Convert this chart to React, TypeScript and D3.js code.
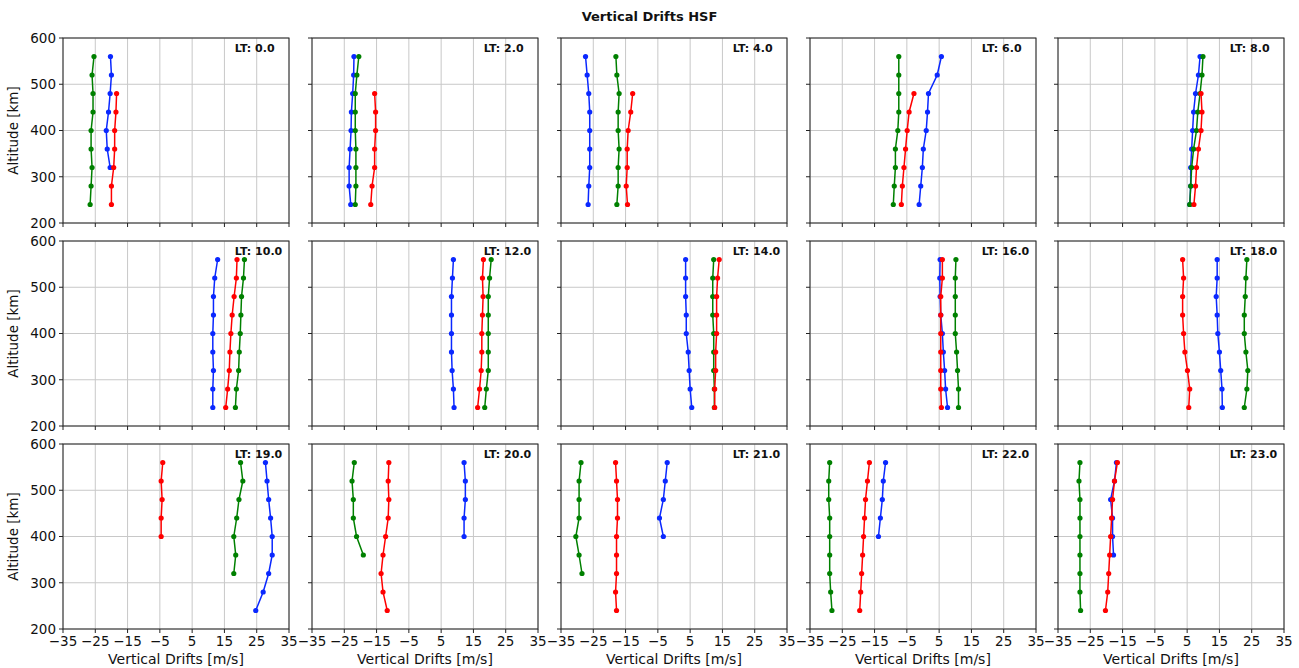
import React from "react";
import * as d3 from "d3";

const ALTITUDES = [240, 280, 320, 360, 400, 440, 480, 520, 560];
const LT_LABELS = ["0.0","2.0","4.0","6.0","8.0","10.0","12.0","14.0","16.0","18.0","19.0","20.0","21.0","22.0","23.0"];
const X_TICKS = [-35, -25, -15, -5, 5, 15, 25, 35];
const Y_TICKS = [200, 300, 400, 500, 600];

type S = (number | null)[];
const n = null;

const BLUE: S[] = [
  [n, n, -20.4, -21.3, -21.6, -20.9, -20.4, -20.0, -20.3],
  [-23.0, -23.5, -23.5, -23.2, -22.9, -22.8, -22.4, -22.1, -22.0],
  [-26.6, -26.4, -26.1, -26.1, -26.1, -26.1, -26.4, -26.9, -27.4],
  [-1.2, -0.7, -0.2, 0.1, 1.0, 1.4, 1.7, 4.4, 5.7],
  [5.8, 6.1, 6.1, 6.4, 6.7, 7.0, 7.6, 8.5, 9.0],
  [11.4, 11.4, 11.6, 11.4, 11.4, 11.6, 11.6, 12.0, 12.9],
  [9.0, 8.8, 8.4, 8.2, 8.2, 8.2, 8.2, 8.5, 8.8],
  [5.5, 5.0, 4.7, 4.4, 3.8, 3.8, 3.6, 3.6, 3.6],
  [7.6, 7.0, 6.7, 6.3, 6.0, 5.5, 5.3, 5.2, 5.3],
  [15.9, 15.8, 15.4, 15.0, 14.5, 14.3, 14.0, 14.3, 14.3],
  [24.7, 27.0, 28.7, 29.8, 29.8, 29.3, 28.7, 28.2, 27.7],
  [n, n, n, n, 12.1, 12.1, 12.5, 12.5, 12.1],
  [n, n, n, n, -3.3, -4.5, -3.3, -2.7, -2.1],
  [n, n, n, n, -13.8, -13.2, -12.6, -12.3, -11.6],
  [n, n, n, -17.8, -18.1, -18.1, -18.7, -17.5, -16.9],
];

const GREEN: S[] = [
  [-26.6, -26.3, -26.0, -26.3, -26.3, -25.7, -25.7, -26.0, -25.4],
  [-21.6, -21.4, -21.4, -21.4, -21.6, -21.6, -21.6, -21.1, -20.5],
  [-17.7, -17.3, -17.3, -17.0, -17.3, -17.3, -17.0, -17.7, -18.0],
  [-9.2, -8.9, -8.55, -8.55, -7.8, -7.5, -7.5, -7.5, -7.5],
  [5.8, 6.1, 6.4, 7.0, 7.9, 8.3, 9.0, 9.6, 9.9],
  [18.4, 18.7, 19.4, 19.6, 19.9, 20.1, 20.3, 20.9, 21.2],
  [18.5, 19.0, 19.6, 19.6, 19.6, 19.6, 19.6, 20.0, 20.5],
  [12.5, 12.5, 12.3, 12.3, 12.3, 12.0, 12.0, 12.0, 12.3],
  [11.0, 11.0, 10.7, 10.4, 10.0, 10.0, 10.0, 10.0, 10.2],
  [22.7, 23.5, 23.8, 23.2, 22.7, 22.7, 23.0, 23.2, 23.5],
  [n, n, 17.9, 18.5, 17.9, 18.8, 19.5, 20.7, 20.0],
  [n, n, n, -19.1, -21.2, -22.2, -22.2, -22.6, -21.9],
  [n, n, -28.5, -29.4, -30.4, -29.4, -29.4, -29.4, -28.8],
  [-28.2, -28.6, -28.9, -28.9, -28.9, -28.9, -29.2, -29.2, -28.9],
  [-28.0, -28.2, -28.2, -28.2, -28.2, -28.2, -28.2, -28.5, -28.2],
];

const RED: S[] = [
  [-20.0, -20.0, -19.3, -19.0, -19.0, -18.6, -18.4, n, n],
  [-16.8, -16.4, -15.6, -15.6, -15.3, -15.3, -15.6, n, n],
  [-14.4, -14.8, -14.5, -14.5, -14.2, -13.4, -12.8, n, n],
  [-6.7, -6.4, -5.9, -5.4, -4.9, -4.3, -2.8, n, n],
  [7.1, 7.6, 7.9, 8.5, 9.3, 9.6, 9.3, n, n],
  [15.4, 16.0, 16.5, 16.7, 17.0, 17.4, 18.0, 18.7, 18.9],
  [16.3, 16.9, 17.4, 17.6, 17.6, 17.8, 18.0, 17.8, 18.1],
  [12.6, 12.6, 12.9, 12.9, 13.2, 13.2, 13.2, 13.5, 14.0],
  [5.7, 5.5, 5.5, 5.5, 5.5, 5.5, 5.5, 6.0, 6.0],
  [5.5, 5.8, 5.1, 4.3, 3.9, 3.6, 3.6, 3.9, 3.6],
  [n, n, n, n, -4.6, -4.6, -4.3, -4.6, -4.1],
  [-11.7, -13.0, -13.6, -13.0, -12.2, -11.4, -11.2, -11.4, -11.2],
  [-17.8, -18.1, -17.8, -17.8, -17.8, -17.5, -17.5, -17.8, -18.1],
  [-19.6, -19.3, -19.0, -18.7, -18.4, -18.1, -17.8, -17.2, -16.6],
  [-20.3, -19.6, -19.3, -19.0, -18.7, -18.4, -18.1, -17.5, -16.6],
];

const SERIES = [
  { data: BLUE, color: "#0a28ff" },
  { data: GREEN, color: "#008000" },
  { data: RED, color: "#ff0000" },
];

const W = 1299, H = 668;
const PANEL_W = 226, PANEL_H = 185;
const COL_X = [63, 312, 561, 810, 1058];
const ROW_Y = [38, 241, 444];
const FONT = "DejaVu Sans, sans-serif";

function fmt(v: number) {
  return v < 0 ? "\u2212" + Math.abs(v) : String(v);
}

function Panel({ idx }: { idx: number }) {
  const col = idx % 5, row = Math.floor(idx / 5);
  const x0 = COL_X[col], y0 = ROW_Y[row];
  const x = d3.scaleLinear().domain([-35, 35]).range([0, PANEL_W]);
  const y = d3.scaleLinear().domain([200, 600]).range([PANEL_H, 0]);
  const line = d3.line<[number, number]>().x(d => x(d[0])).y(d => y(d[1]));
  return (
    <g transform={`translate(${x0},${y0})`}>
      {X_TICKS.map(t => (
        <line key={"gx" + t} x1={x(t)} x2={x(t)} y1={0} y2={PANEL_H} stroke="#c8c8c8" strokeWidth={1} />
      ))}
      {Y_TICKS.map(t => (
        <line key={"gy" + t} x1={0} x2={PANEL_W} y1={y(t)} y2={y(t)} stroke="#c8c8c8" strokeWidth={1} />
      ))}
      {SERIES.map((s, si) => {
        const pts: [number, number][] = [];
        s.data[idx].forEach((v, i) => { if (v !== null) pts.push([v, ALTITUDES[i]]); });
        return (
          <g key={si}>
            <path d={line(pts) || ""} fill="none" stroke={s.color} strokeWidth={1.5} />
            {pts.map((p, i) => (
              <circle key={i} cx={x(p[0])} cy={y(p[1])} r={2.6} fill={s.color} />
            ))}
          </g>
        );
      })}
      <rect x={0} y={0} width={PANEL_W} height={PANEL_H} fill="none" stroke="#222" strokeWidth={1} />
      {X_TICKS.map(t => (
        <line key={"tx" + t} x1={x(t)} x2={x(t)} y1={PANEL_H} y2={PANEL_H + 4} stroke="#222" strokeWidth={1} />
      ))}
      {Y_TICKS.map(t => (
        <line key={"ty" + t} x1={-4} x2={0} y1={y(t)} y2={y(t)} stroke="#222" strokeWidth={1} />
      ))}
      {col === 0 && Y_TICKS.map(t => (
        <text key={"ly" + t} x={-7} y={y(t)} dy="0.36em" textAnchor="end" fontSize={13.5} fontFamily={FONT} fill="#111">{t}</text>
      ))}
      {row === 2 && X_TICKS.map(t => (
        <text key={"lx" + t} x={x(t)} y={PANEL_H + 17} textAnchor="middle" fontSize={13.5} fontFamily={FONT} fill="#111">{fmt(t)}</text>
      ))}
      {row === 2 && (
        <text x={PANEL_W / 2} y={PANEL_H + 35} textAnchor="middle" fontSize={14} fontFamily={FONT} fill="#111">Vertical Drifts [m/s]</text>
      )}
      {col === 0 && (
        <text transform={`translate(${-45},${PANEL_H / 2}) rotate(-90)`} textAnchor="middle" fontSize={13.5} fontFamily={FONT} fill="#111">Altitude [km]</text>
      )}
      <text x={PANEL_W * 0.76} y={14} fontSize={11} fontWeight="bold" fontFamily={FONT} fill="#111">{"LT: " + LT_LABELS[idx]}</text>
    </g>
  );
}

export default function App() {
  return (
    <svg width={W} height={H} style={{ position: "absolute", left: 0, top: 0, background: "#fff" }}>
      <rect x={0} y={0} width={W} height={H} fill="#fff" />
      <text x={W / 2} y={21} textAnchor="middle" fontSize={13} fontWeight="bold" fontFamily={FONT} fill="#111">Vertical Drifts HSF</text>
      {LT_LABELS.map((_, i) => <Panel key={i} idx={i} />)}
    </svg>
  );
}
